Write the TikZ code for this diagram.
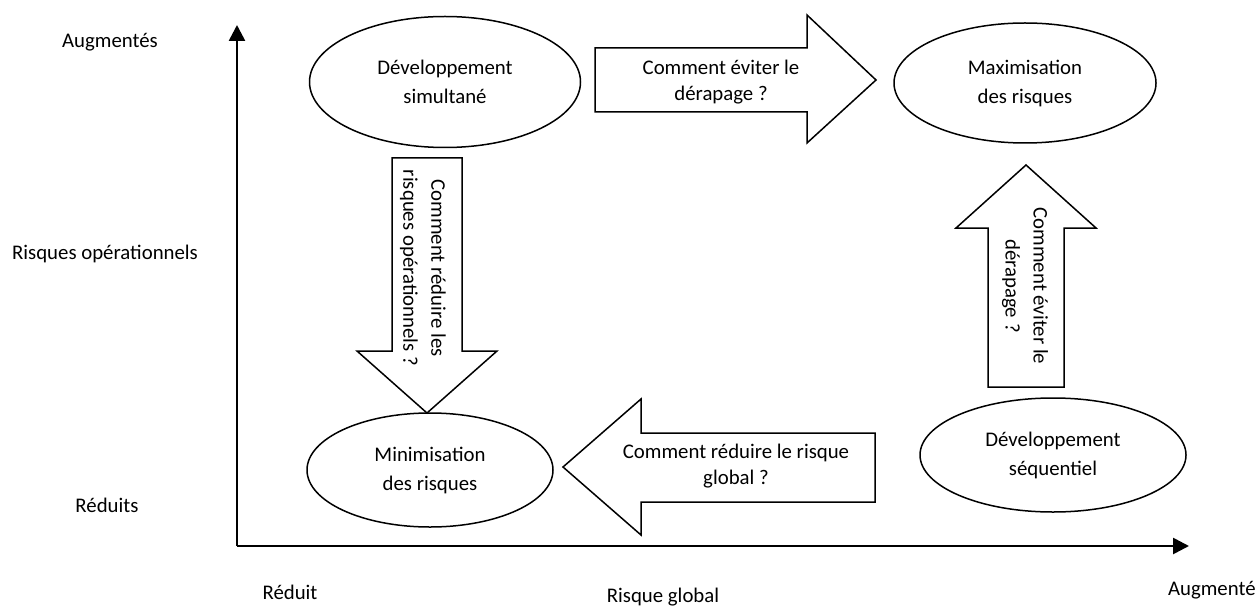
\documentclass[tikz,border=0pt]{standalone}
\usepackage{fontspec}
\setmainfont{Carlito}
\usetikzlibrary{shapes.geometric,arrows.meta}
\begin{document}
\begin{tikzpicture}[x=0.5pt,y=-0.5pt,
  every node/.style={font=\fontsize{10.4}{12.7}\selectfont, inner sep=0pt},
  bubble/.style={draw, ellipse, line width=0.75pt, align=center, font=\fontsize{10.4}{14.5}\selectfont},
  blockarrow/.style={draw, line width=0.75pt, line join=miter, fill=white},
  axisline/.style={line width=1.3pt, -{Triangle[width=8pt,length=8pt]}},
  lbl/.style={align=center},
  vlbl/.style={align=center, rotate=-90, font=\fontsize{10.4}{14}\selectfont}]
\useasboundingbox (0,0) rectangle (1256,609);

% axes
\coordinate (O) at (237,546);
\coordinate (ytop) at (237,25);
\coordinate (xend) at (1189,546);
\draw[axisline] (O) -- (ytop);
\draw[axisline] (O) -- (xend);

% axis labels
\node[lbl] (ya) at (110,42) {Augmentés};
\node[lbl] (yr) at (105,254) {Risques opérationnels};
\node[lbl] (yd) at (107,505) {Réduits};
\node[lbl] (xd) at (290,592) {Réduit};
\node[lbl] (xr) at (663,597) {Risque global};
\node[lbl,anchor=east] (xa) at (1256,590) {Augmenté};

% ellipses
\node[bubble, minimum width=135.5pt, minimum height=65.5pt] (sim) at (445,82) {Développement\\simultané};
\node[bubble, minimum width=131pt, minimum height=60pt] (max) at (1025,83) {Maximisation\\des risques};
\node[bubble, minimum width=123pt, minimum height=57pt] (min) at (430,470) {Minimisation\\des risques};
\node[bubble, minimum width=133pt, minimum height=57pt] (seq) at (1053,455) {Développement\\séquentiel};

% right arrow (top)
\draw[blockarrow] (595,48) -- (807,48) -- (807,15) -- (876,80) -- (807,143) -- (807,112) -- (595,112) -- cycle;
\node[lbl] (ta) at (721,82) {Comment éviter le\\dérapage ?};

% down arrow
\draw[blockarrow] (392,158) -- (462,158) -- (462,351) -- (497,351) -- (427,413) -- (357,351) -- (392,351) -- cycle;
\node[vlbl] (da) at (423,268) {Comment réduire les\\risques opérationnels ?};

% up arrow
\draw[blockarrow] (988,387) -- (1064,387) -- (1064,228) -- (1096,228) -- (1026,165) -- (956,228) -- (988,228) -- cycle;
\node[vlbl] (ua) at (1025,286) {Comment éviter le\\dérapage ?};

% left arrow (bottom)
\draw[blockarrow] (875,433) -- (641,433) -- (641,399) -- (563,467) -- (641,535) -- (641,502) -- (875,502) -- cycle;
\node[lbl] (la) at (736,466) {Comment réduire le risque\\global ?};
\end{tikzpicture}
\end{document}
